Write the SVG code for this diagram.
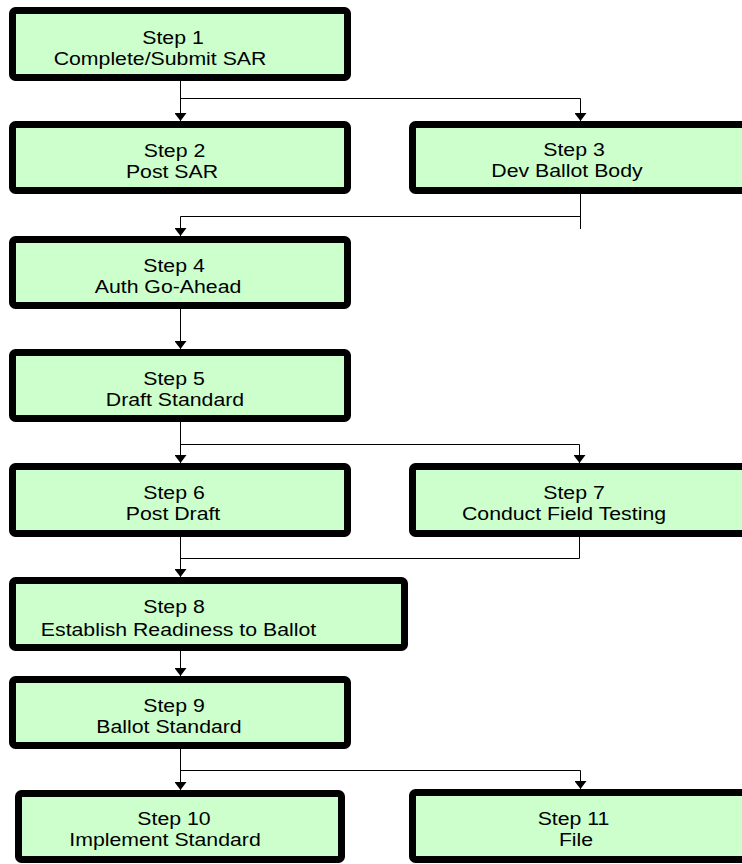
<svg xmlns="http://www.w3.org/2000/svg" width="742" height="864" viewBox="0 0 742 864">
<style>
.box{fill:#ccffcc;stroke:#000;stroke-width:7}
.t{font-family:"Liberation Sans",Arial,sans-serif;font-size:18.5px;fill:#000;text-anchor:middle}
.c{fill:none;stroke:#000;stroke-width:1}
</style>
<defs>
<marker id="ah" viewBox="0 -6 8 12" refX="8" refY="0" markerWidth="8" markerHeight="12" markerUnits="userSpaceOnUse" orient="auto">
<path d="M0,-6 L8,0 L0,6 z" fill="#000"/>
</marker>
</defs>
<rect width="742" height="864" fill="#fff"/>
<g id="connectors">
<path class="c" d="M180.5,81 V121" marker-end="url(#ah)"/>
<path class="c" d="M180.5,98.5 H580.5 V121" marker-end="url(#ah)"/>
<path class="c" d="M580.5,194 V229"/>
<path class="c" d="M580.5,216.5 H180.5 V236" marker-end="url(#ah)"/>
<path class="c" d="M180.5,309 V349" marker-end="url(#ah)"/>
<path class="c" d="M180.5,422 V463" marker-end="url(#ah)"/>
<path class="c" d="M180.5,444.5 H579.5 V463" marker-end="url(#ah)"/>
<path class="c" d="M180.5,537 V577" marker-end="url(#ah)"/>
<path class="c" d="M579.5,537 V558.5 H180.5"/>
<path class="c" d="M180.5,651 V676" marker-end="url(#ah)"/>
<path class="c" d="M180.5,749 V790" marker-end="url(#ah)"/>
<path class="c" d="M180.5,770.5 H580.5 V789" marker-end="url(#ah)"/>
</g>
<g id="step1">
<rect class="box" x="12.5" y="10.5" width="335" height="67" rx="3"/>
<text class="t" transform="translate(173,44) scale(1.15,1)">Step 1</text>
<text class="t" transform="translate(160,65) scale(1.15,1)">Complete/Submit SAR</text>
</g>
<g id="step2">
<rect class="box" x="12.5" y="124.5" width="335" height="66" rx="3"/>
<text class="t" transform="translate(174.5,157) scale(1.15,1)">Step 2</text>
<text class="t" transform="translate(172,178) scale(1.15,1)">Post SAR</text>
</g>
<g id="step3">
<rect class="box" x="412.5" y="124.5" width="335" height="66" rx="3"/>
<text class="t" transform="translate(574,156) scale(1.15,1)">Step 3</text>
<text class="t" transform="translate(567,177) scale(1.15,1)">Dev Ballot Body</text>
</g>
<g id="step4">
<rect class="box" x="12.5" y="239.5" width="335" height="66" rx="3"/>
<text class="t" transform="translate(174,272) scale(1.15,1)">Step 4</text>
<text class="t" transform="translate(168,293) scale(1.15,1)">Auth Go-Ahead</text>
</g>
<g id="step5">
<rect class="box" x="12.5" y="352.5" width="335" height="66" rx="3"/>
<text class="t" transform="translate(174,385) scale(1.15,1)">Step 5</text>
<text class="t" transform="translate(175,406) scale(1.15,1)">Draft Standard</text>
</g>
<g id="step6">
<rect class="box" x="12.5" y="466.5" width="335" height="67" rx="3"/>
<text class="t" transform="translate(174,499) scale(1.15,1)">Step 6</text>
<text class="t" transform="translate(173,520) scale(1.15,1)">Post Draft</text>
</g>
<g id="step7">
<rect class="box" x="412.5" y="466.5" width="335" height="67" rx="3"/>
<text class="t" transform="translate(574,499) scale(1.15,1)">Step 7</text>
<text class="t" transform="translate(564,520) scale(1.15,1)">Conduct Field Testing</text>
</g>
<g id="step8">
<rect class="box" x="12.5" y="580.5" width="392" height="67" rx="3"/>
<text class="t" transform="translate(174,613) scale(1.15,1)">Step 8</text>
<text class="t" transform="translate(178.5,636) scale(1.15,1)">Establish Readiness to Ballot</text>
</g>
<g id="step9">
<rect class="box" x="12.5" y="679.5" width="335" height="66" rx="3"/>
<text class="t" transform="translate(174,712) scale(1.15,1)">Step 9</text>
<text class="t" transform="translate(169,733) scale(1.15,1)">Ballot Standard</text>
</g>
<g id="step10">
<rect class="box" x="18.5" y="793.5" width="323" height="66" rx="3"/>
<text class="t" transform="translate(174,825) scale(1.15,1)">Step 10</text>
<text class="t" transform="translate(165,846) scale(1.15,1)">Implement Standard</text>
</g>
<g id="step11">
<rect class="box" x="412.5" y="792.5" width="335" height="67" rx="3"/>
<text class="t" transform="translate(573.5,825) scale(1.15,1)">Step 11</text>
<text class="t" transform="translate(576,846) scale(1.15,1)">File</text>
</g>
</svg>
